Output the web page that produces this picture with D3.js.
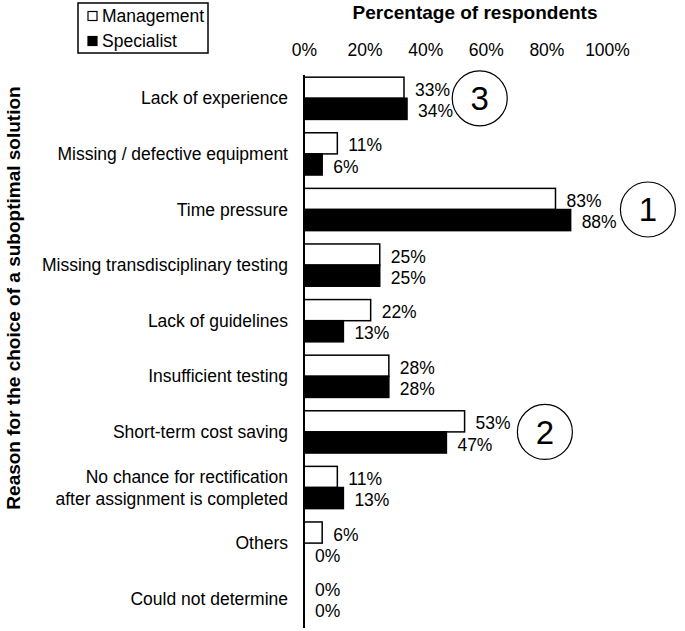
<!DOCTYPE html>
<html>
<head>
<meta charset="utf-8">
<script src="https://cdn.jsdelivr.net/npm/d3@7"></script>
<style>
  body { margin: 0; background: #fff; }
  text { font-family: "Liberation Sans", Arial, sans-serif; fill: #000; }
</style>
</head>
<body>
<svg id="chart" width="685" height="631"></svg>
<script>
//

const categories = [
  ['Lack of experience'],
  ['Missing / defective equipment'],
  ['Time pressure'],
  ['Missing transdisciplinary testing'],
  ['Lack of guidelines'],
  ['Insufficient testing'],
  ['Short-term cost saving'],
  ['No chance for rectification', 'after assignment is completed'],
  ['Others'],
  ['Could not determine']
]
const management = [33, 11, 83, 25, 22, 28, 53, 11, 6, 0]
const specialist = [34, 6, 88, 25, 13, 28, 47, 13, 0, 0]
const seriesNames = ['Management', 'Specialist']
const xTicks = [0, 20, 40, 60, 80, 100]
// ranking circles: category index, rank number, position in percent
const ranks = [[0, 3, 58], [2, 1, 113.5], [6, 2, 79.5]]

//

const svg = d3.select('#chart')

const x = d3.scaleLinear().domain([0, 100]).range([304, 607])
const y = d3.scaleBand().domain(d3.range(categories.length)).range([70.5, 626.5]).paddingInner(0.24).paddingOuter(0.12)
const sub = d3.scaleBand().domain([0, 1]).range([0, y.bandwidth()])

const fills = ['#fff', '#000']
const data = [management, specialist]

// top axis (labels only)
const xAxis = d3.axisTop(x)
  .tickValues(xTicks)
  .tickFormat((d) => d + '%')
  .tickSize(0)
  .tickPadding(0)
const gx = svg.append('g')
  .attr('transform', 'translate(0,56)')
  .call(xAxis)
gx.select('.domain').remove()
gx.selectAll('text')
  .style('font-size', '17.5px')
  .style('font-family', '"Liberation Sans", Arial, sans-serif')

svg.append('text')
  .attr('x', 475)
  .attr('y', 19)
  .attr('text-anchor', 'middle')
  .style('font-size', '19px')
  .style('font-weight', 'bold')
  .text('Percentage of respondents')

// bars
data.forEach((serie, s) => {
  svg.append('g').selectAll('rect')
    .data(serie)
    .join('rect')
    .attr('x', x(0))
    .attr('y', (d, i) => y(i) + sub(s))
    .attr('width', (d) => x(d) - x(0))
    .attr('height', sub.bandwidth())
    .attr('fill', fills[s])
    .attr('stroke', (d) => d > 0 ? '#000' : 'none')
    .attr('stroke-width', 1.5)

  svg.append('g').selectAll('text')
    .data(serie)
    .join('text')
    .attr('x', (d) => x(d) + 11)
    .attr('y', (d, i) => y(i) + sub(s) + sub.bandwidth() / 2 + 2)
    .attr('dy', '0.35em')
    .style('font-size', '17.5px')
    .text((d) => d + '%')
})

// vertical axis line
svg.append('line')
  .attr('x1', x(0)).attr('x2', x(0))
  .attr('y1', 75).attr('y2', 628)
  .attr('stroke', '#000')
  .attr('stroke-width', 2)

// category labels
const cat = svg.append('g').selectAll('text')
  .data(categories)
  .join('text')
  .attr('text-anchor', 'end')
  .style('font-size', '17.5px')
  .attr('transform', (d, i) => `translate(288,${y(i) + y.bandwidth() / 2})`)
cat.selectAll('tspan')
  .data((d) => d.map((t, k) => ({t, k, n: d.length})))
  .join('tspan')
  .attr('x', 0)
  .attr('y', (d) => (d.k - (d.n - 1) / 2) * 22)
  .attr('dy', '0.35em')
  .text((d) => d.t)

svg.append('text')
  .attr('transform', 'translate(20,298) rotate(-90)')
  .attr('text-anchor', 'middle')
  .style('font-size', '19px')
  .style('font-weight', 'bold')
  .text('Reason for the choice of a suboptimal solution')

// rank circles
const rankG = svg.append('g').selectAll('g')
  .data(ranks)
  .join('g')
  .attr('transform', (d) => `translate(${x(d[2])},${y(d[0]) + y.bandwidth() / 2})`)
rankG.append('circle')
  .attr('r', 27.5)
  .attr('fill', '#fff')
  .attr('stroke', '#000')
  .attr('stroke-width', 1.2)
rankG.append('text')
  .attr('text-anchor', 'middle')
  .attr('dy', '0.36em')
  .style('font-size', '33px')
  .text((d) => d[1])

// legend
const legend = svg.append('g')
svg.append('rect')
  .attr('x', 78).attr('y', 3)
  .attr('width', 130).attr('height', 50)
  .attr('fill', 'none')
  .attr('stroke', '#000')
  .attr('stroke-width', 1.5)
seriesNames.forEach((name, s) => {
  const ly = 16 + s * 25
  legend.append('rect')
    .attr('x', 88).attr('y', ly - 4.5)
    .attr('width', 9).attr('height', 9)
    .attr('fill', fills[s])
    .attr('stroke', '#000')
    .attr('stroke-width', 1.2)
  legend.append('text')
    .attr('x', 102).attr('y', ly)
    .attr('dy', '0.35em')
    .style('font-size', '17.5px')
    .text(name)
})
</script>
</body>
</html>
